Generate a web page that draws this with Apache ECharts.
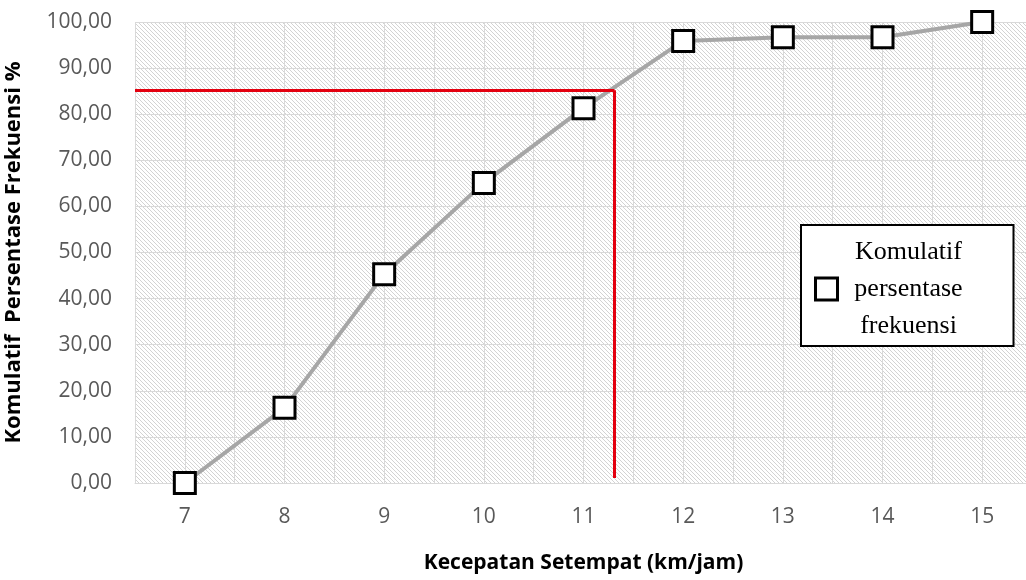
<!DOCTYPE html>
<html>
<head>
<meta charset="utf-8">
<script src="https://cdn.jsdelivr.net/npm/echarts@6/dist/echarts.min.js"></script>
<style>
  html, body { margin: 0; padding: 0; background: #fff; }
  #chart { width: 1026px; height: 580px; }
</style>
</head>
<body>
<div id="chart"></div>
<script>
// Kecepatan setempat (km/jam) and cumulative frequency percentage
const speeds = [7, 8, 9, 10, 11, 12, 13, 14, 15];
const cumulativePct = [0, 16.3, 45.3, 65.1, 81.3, 95.9, 96.7, 96.7, 100];
const yTicks = [0, 10, 20, 30, 40, 50, 60, 70, 80, 90, 100];
// 85th percentile reading (percent, km/jam)
const p85Pct = [85.2];
const p85Speed = [11.31];

const seriesName = 'Komulatif persentase frekuensi';

// Diagonal hatch fill for the plot area
function hatchPattern() {
  const c = document.createElement('canvas');
  c.width = 4; c.height = 4;
  const g = c.getContext('2d');
  g.fillStyle = '#ffffff';
  g.fillRect(0, 0, 4, 4);
  g.strokeStyle = '#d3d3d3';
  g.lineWidth = 1;
  g.beginPath();
  g.moveTo(-1, -1); g.lineTo(5, 5);
  g.moveTo(-1, 3); g.lineTo(1, 5);
  g.moveTo(3, -1); g.lineTo(5, 1);
  g.stroke();
  return { image: c, repeat: 'repeat' };
}

const chart = echarts.init(document.getElementById('chart'));
const labelFont = { fontFamily: 'Open Sans', fontSize: 21, color: '#595959' };
const titleFont = { fontFamily: 'Open Sans', fontWeight: 'bold', color: '#000' };

chart.setOption({
  animation: false,
  backgroundColor: '#fff',
  grid: {
    left: 135, right: -6, top: 22, bottom: 97,
    outerBoundsMode: 'none',
    containLabel: false,
    show: true,
    backgroundColor: hatchPattern(),
    borderWidth: 0
  },
  xAxis: {
    type: 'value',
    min: 6.5, max: 15.5, interval: 0.5,
    name: 'Kecepatan Setempat (km/jam)',
    nameLocation: 'middle',
    nameGap: 70,
    nameTextStyle: Object.assign({ fontSize: 21 }, titleFont),
    axisLine: { show: true, lineStyle: { color: '#d9d9d9', width: 1 } },
    axisTick: { show: false },
    splitLine: { show: true, lineStyle: { color: '#d9d9d9', width: 1 } },
    axisLabel: Object.assign({}, labelFont, {
      margin: 24,
      formatter: v => (speeds.indexOf(v) >= 0 ? String(v) : '')
    })
  },
  yAxis: {
    type: 'value',
    min: yTicks[0], max: yTicks[yTicks.length - 1], interval: 10,
    name: 'Komulatif  Persentase Frekuensi %',
    nameLocation: 'middle',
    nameGap: 110,
    nameTextStyle: Object.assign({ fontSize: 22 }, titleFont),
    axisLine: { show: false },
    axisTick: { show: false },
    splitLine: { show: true, lineStyle: { color: '#d9d9d9', width: 1 } },
    axisLabel: Object.assign({}, labelFont, {
      margin: 23,
      formatter: v => v.toFixed(2).replace('.', ',')
    })
  },
  legend: {
    data: [seriesName],
    left: 801, top: 225,
    orient: 'vertical',
    backgroundColor: '#fff',
    borderColor: '#000',
    borderWidth: 2,
    borderRadius: 0,
    padding: [14, 39, 7, 13],
    icon: 'rect',
    itemWidth: 22, itemHeight: 22,
    itemGap: 0,
    itemStyle: { color: '#fff', borderColor: '#000', borderWidth: 3 },
    formatter: () => '{t|Komulatif}\n{t|persentase}\n{t|frekuensi}',
    textStyle: {
      fontFamily: 'Liberation Serif', fontSize: 26, color: '#000',
      rich: {
        t: {
          fontFamily: 'Liberation Serif', fontSize: 26, color: '#000',
          width: 132, align: 'center', lineHeight: 37
        }
      }
    }
  },
  series: [{
    name: seriesName,
    type: 'line',
    data: speeds.map((s, i) => [s, cumulativePct[i]]),
    symbol: 'rect',
    symbolSize: 21,
    itemStyle: { color: '#fff', borderColor: '#000', borderWidth: 3 },
    lineStyle: { color: '#a6a6a6', width: 4 },
    z: 3,
    markLine: {
      silent: true,
      symbol: ['none', 'none'],
      label: { show: false },
      lineStyle: { color: '#e3000f', width: 3, type: 'solid' },
      data: [
        [{ coord: [6.5, p85Pct[0]] }, { coord: [p85Speed[0], p85Pct[0]] }],
        [{ coord: [p85Speed[0], p85Pct[0]] }, { coord: [p85Speed[0], 1.1] }]
      ]
    }
  }]
});
</script>
</body>
</html>
